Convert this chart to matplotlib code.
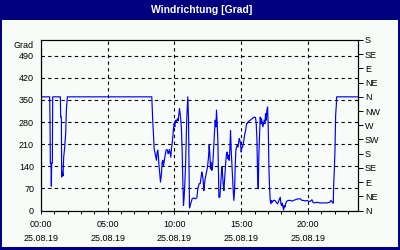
import matplotlib.pyplot as plt
from matplotlib.patches import Rectangle


# Windrichtung 25.08.19, Zeit in Stunden
hours = [0.0, 0.65, 0.675, 0.70, 0.75, 0.775, 0.80, 0.85, 0.875,
         1.45, 1.475, 1.525, 1.55, 1.60, 1.65, 1.70, 1.775, 1.85, 1.90, 1.975,
         8.30, 8.375, 8.425, 8.475, 8.55, 8.60, 8.65, 8.70, 8.75, 8.80, 8.85,
         8.90, 8.95, 9.025, 9.075, 9.125, 9.175, 9.225, 9.275, 9.325, 9.375,
         9.425, 9.475, 9.525, 9.575, 9.625, 9.675, 9.725, 9.775, 9.825, 9.875,
         9.925, 9.975, 10.025, 10.075, 10.125, 10.175, 10.225, 10.275, 10.325,
         10.375, 10.425, 10.475, 10.525, 10.575, 10.625, 10.675, 10.725, 10.775,
         10.825, 10.875, 10.925, 11.0, 11.05, 11.075, 11.10, 11.125, 11.175,
         11.25, 11.325, 11.425,
         11.55, 11.675, 11.75, 11.85, 11.925, 12.0, 12.05, 12.10, 12.15, 12.2,
         12.25, 12.30, 12.375, 12.45, 12.50, 12.55, 12.60, 12.65, 12.70, 12.75,
         12.80, 12.85, 12.90, 12.95, 13.0, 13.05, 13.10, 13.15, 13.20, 13.25,
         13.30, 13.325, 13.40, 13.45, 13.50, 13.55, 13.60, 13.65, 13.70, 13.75,
         13.80, 13.85, 13.90, 13.95, 14.0, 14.05, 14.10, 14.15, 14.20, 14.25,
         14.30, 14.35, 14.40, 14.45, 14.50, 14.55, 14.60, 14.65, 14.70, 14.75,
         14.80, 14.85, 14.90, 14.95, 15.0, 15.05, 15.10, 15.15, 15.20, 15.25,
         15.30, 15.35, 15.40, 15.45, 15.50, 15.60,
         15.675, 15.825, 15.975, 16.075, 16.125, 16.175, 16.225, 16.275, 16.325,
         16.375, 16.425, 16.475, 16.525, 16.575, 16.625, 16.675, 16.725, 16.775,
         16.825, 16.875, 16.925, 16.975, 17.025, 17.075, 17.125, 17.175, 17.225,
         17.275, 17.325, 17.425, 17.525, 17.625, 17.725, 17.825, 17.925, 17.975,
         18.025, 18.075, 18.125, 18.175, 18.225, 18.275, 18.325, 18.425, 18.55,
         18.675, 18.80, 18.925, 19.05, 19.175, 19.30,
         19.425, 19.55, 19.675, 19.80, 19.925, 20.05, 20.175, 20.30, 20.375,
         20.475, 20.675, 20.925, 21.175, 21.425, 21.625, 21.725, 21.825, 21.90,
         21.925, 21.975, 22.025, 22.075, 22.125, 22.15, 23.75]

grad = [360, 360, 288, 150, 150, 77, 150, 150, 360,
        360, 296, 296, 106, 122, 110, 169, 200, 245, 318, 360,
        360, 280, 243, 196, 180, 169, 159, 185, 191, 169, 138,
        116, 90, 116, 153, 159, 143, 153, 169, 180, 191,
        193, 191, 180, 185, 193, 180, 169, 196, 212, 233,
        259, 275, 265, 286, 280, 286, 291, 284, 302,
        323, 307, 286, 254, 191, 95, 16, 42, 85,
        138, 222, 296, 360, 296, 191, 74, 8, 16,
        26, 37, 40,
        37, 40, 69, 85, 85, 106, 122, 111, 95, 63,
        85, 101, 116, 132, 148, 169, 206, 180, 132, 153,
        127, 138, 169, 212, 249, 286, 265, 318, 275, 222,
        116, 42, 42, 74, 106, 138, 116, 85, 63, 95,
        132, 159, 180, 185, 164, 175, 159, 191, 254, 191,
        148, 106, 63, 32, 63, 138, 191, 201, 206, 201,
        212, 228, 222, 212, 185, 201, 201, 212, 222, 238,
        249, 259, 275, 275, 280, 284,
        286, 291, 296, 294, 275, 228, 116, 69, 180,
        243, 296, 275, 291, 275, 265, 275, 286, 275,
        307, 286, 318, 328, 265, 138, 69, 32, 21,
        32, 26, 32, 32, 26, 21, 32, 42, 21,
        16, 23, 11, 2, 16, 11, 21, 30, 32,
        32, 30, 32, 34, 36, 37,
        37, 32, 32, 30, 32, 29, 29, 34, 26,
        24, 26, 24, 24, 24, 26, 32, 26, 23,
        79, 127, 191, 302, 333, 360, 360]

grad_ticks = [0, 70, 140, 210, 280, 350, 420, 490]
dir_ticks = [0, 45, 90, 135, 180, 225, 270, 315, 360, 405, 450, 495, 540]
dir_labels = ['N', 'NE', 'E', 'SE', 'S', 'SW', 'W', 'NW', 'N', 'NE', 'E', 'SE', 'S']
time_ticks = [0, 5, 10, 15, 20]
time_labels = ['00:00', '05:00', '10:00', '15:00', '20:00']
datum = '25.08.19'

bg = '#f8fcf8'
navy = '#000080'
fs = 6.5
plt.rcParams['font.family'] = ['Liberation Sans', 'DejaVu Sans']

fig = plt.figure(figsize=(4, 2.5), dpi=100, facecolor=bg)

# Rahmen und Titelleiste
fig.patches.append(Rectangle((0, 0.92), 1, 0.08, transform=fig.transFigure,
                             facecolor=navy, edgecolor='none', zorder=0))
fig.patches.append(Rectangle((0, 0), 0.004, 1, transform=fig.transFigure,
                             facecolor=navy, edgecolor='none', zorder=0))
fig.patches.append(Rectangle((0.996, 0), 0.004, 1, transform=fig.transFigure,
                             facecolor=navy, edgecolor='none', zorder=0))
fig.patches.append(Rectangle((0, 0), 1, 0.012, transform=fig.transFigure,
                             facecolor=navy, edgecolor='none', zorder=0))
fig.text(0.505, 0.96, 'Windrichtung [Grad]', color='white', fontsize=7.5,
         fontweight='bold', ha='center', va='center')

ax = fig.add_axes([0.1025, 0.158, 0.7925, 0.682])
ax.set_facecolor(bg)
ax.plot(hours, grad, color='#0000ff', lw=0.85)

ax.set_xlim(0, 23.75)
ax.set_ylim(0, 540)
ax.set_yticks(grad_ticks)
ax.set_yticklabels([str(g) for g in grad_ticks], fontsize=fs)
ax.tick_params(axis='y', length=0, pad=5)
ax.set_xticks(time_ticks)
ax.set_xticklabels([t + '\n' + datum for t in time_labels], fontsize=fs,
                   linespacing=1.75)
ax.set_xticks(range(0, 24), minor=True)
ax.tick_params(axis='x', which='both', length=2.5, width=0.7, direction='out',
               pad=4)
ax.grid(True, color='black', linestyle=(0, (3, 3)), linewidth=0.8)
for s in ax.spines.values():
    s.set_linewidth(0.8)

ax2 = ax.twinx()
ax2.set_ylim(0, 540)
ax2.set_yticks(dir_ticks)
ax2.set_yticklabels(dir_labels, fontsize=fs)
ax2.tick_params(axis='y', length=3.5, width=0.7, pad=1.5)
for s in ax2.spines.values():
    s.set_linewidth(0.8)

fig.text(0.085, 0.82, 'Grad', fontsize=fs, ha='right', va='center')

fig.savefig('out.png', dpi=100, facecolor=bg)
